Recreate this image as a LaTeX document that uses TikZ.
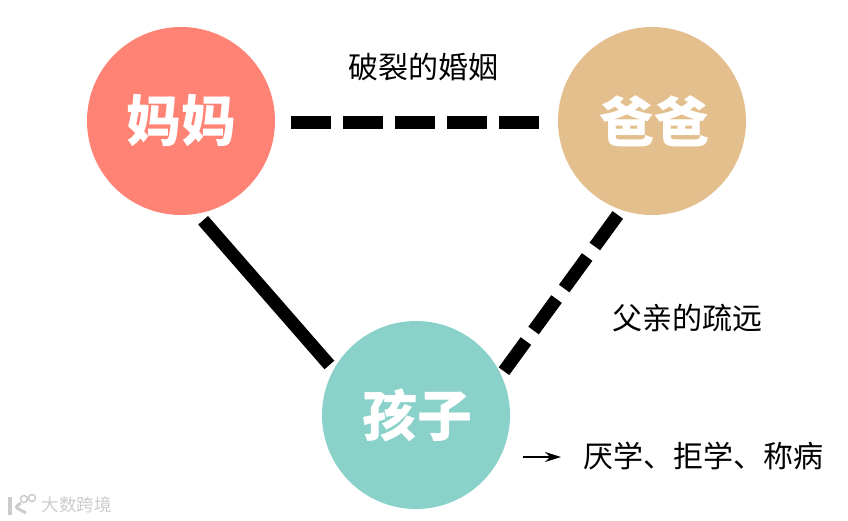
\documentclass[tikz,border=0pt]{standalone}
\usepackage{fontspec}
\setmainfont{Noto Sans CJK SC}
\usetikzlibrary{arrows.meta}
\definecolor{momred}{HTML}{FF8375}
\definecolor{dadtan}{HTML}{E2BF8D}
\definecolor{kidteal}{HTML}{8AD1CA}
\tikzstyle{person}=[circle,minimum size=188pt,inner sep=0pt,outer sep=6pt,text=white,font=\fontsize{55}{55}\selectfont\bfseries]
\tikzstyle{annot}=[inner sep=0pt,font=\fontsize{30}{30}\selectfont]
\tikzstyle{link}=[line width=13pt,line cap=butt]
\tikzstyle{stamp}=[inner sep=0pt,text=black!20,font=\fontsize{17.5}{17.5}\selectfont]
\newcommand{\nudge}[3]{\hspace*{#1}\raisebox{#2}{#3}}
\begin{document}
\begin{tikzpicture}[x=1pt,y=-1pt]
	\useasboundingbox (0,0) rectangle (848,521);

	\node[person, fill=momred](mom) at (181,121){\nudge{1pt}{-7pt}{妈妈}};
	\node[person, fill=dadtan](dad) at (652,121){\nudge{4pt}{-4pt}{爸爸}};
	\node[person, fill=kidteal](kid) at (416,415){\nudge{3pt}{-5pt}{孩子}};

	\node[annot](marriage) at (423.5,67){破裂的婚姻};
	\node[annot](father) at (687,318){父亲的疏远};
	\node[annot](school) at (703.5,456){厌学、拒学、称病};

	\draw[link, dash pattern=on 40pt off 12pt, shorten <=10pt, shorten >=13pt] ([yshift=-1.5pt]mom.east) -- ([yshift=-1.5pt]dad.west);
	\draw[link, shorten <=2pt] (mom.-78) -- (kid.150.6);
	\draw[link, dash pattern=on 39pt off 13pt, shorten >=-2pt] (dad.-110.5) -- (kid.27);

	\coordinate (arrowstart) at (523,457);
	\coordinate (arrowend) at (561,457);
	\draw[-{Stealth[length=16pt,width=10pt]}, line width=2pt] (arrowstart) -- (arrowend);

	% watermark
	\node[stamp](mark) at (76.5,505){大数跨境};
	\draw[black!20, line width=3.5pt] (10,497) -- (10,515);
	\draw[black!20, line width=3pt, rounded corners=3pt] (21,503) -- (15,507) -- (26,513);
	\draw[black!20, line width=1.5pt] (24,499) circle (3.5) (32,498) circle (3.5);
\end{tikzpicture}
\end{document}
